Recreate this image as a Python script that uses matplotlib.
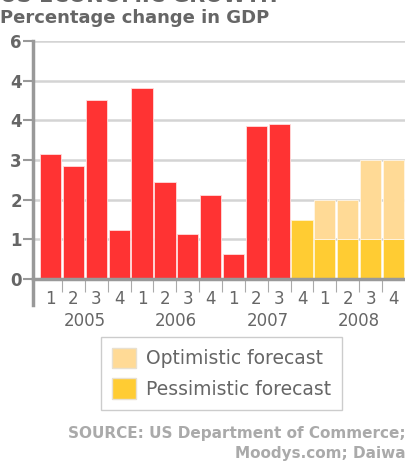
import matplotlib.pyplot as plt
import matplotlib.transforms as mtransforms
from matplotlib.patches import Patch

# quarterly GDP change, 2005 Q1 .. 2008 Q4
quarters = ['1', '2', '3', '4'] * 4
years = ['2005', '2006', '2007', '2008']
actual = [3.14, 2.85, 4.51, 1.23, 4.81, 2.44, 1.13, 2.13, 0.62, 3.85, 3.90]
pessimistic = [1.48, 1.0, 1.0, 1.0, 1.0]
optimistic = [None, 2.0, 2.0, 3.0, 3.0]
y_ticks = [0, 1, 2, 3, 4, 5, 6]
y_tick_labels = ['0', '1', '2', '3', '4', '4', '6']   # as printed on the original

RED = '#ff3333'
LIGHT = '#ffda96'
YELLOW = '#ffcc33'
GRAY = '#666666'

fig = plt.figure(figsize=(4.06, 4.61), dpi=100)
ax = fig.add_axes([33 / 406, 182 / 461, 1 - 33 / 406, 238 / 461])

n_act = len(actual)
x_act = list(range(n_act))
x_fc = list(range(n_act, n_act + len(pessimistic)))
w = 0.93

ax.bar(x_act, actual, width=w, color=RED, edgecolor='#ffdddd', linewidth=0.6, zorder=3)
ax.bar(x_fc, pessimistic, width=w, color=YELLOW, edgecolor='#fff3d0', linewidth=0.6, zorder=3)
opt_x = [x for x, o in zip(x_fc, optimistic) if o is not None]
opt_h = [o - p for o, p in zip(optimistic, pessimistic) if o is not None]
opt_b = [p for o, p in zip(optimistic, pessimistic) if o is not None]
ax.bar(opt_x, opt_h, bottom=opt_b, width=w, color=LIGHT, edgecolor='#fff6e6', linewidth=0.6, zorder=3)

n = len(quarters)
ax.set_xlim(-0.77, n - 0.45)
ax.set_ylim(0, 6)
ax.set_yticks(y_ticks)
ax.set_yticklabels(y_tick_labels, fontsize=12, fontweight='bold', color=GRAY)
ax.yaxis.grid(True, color='#d4d4d4', linewidth=1.8, zorder=0)
ax.tick_params(axis='y', length=7, width=1.5, color='#999999', pad=1)

ax.set_xticks(range(n))
ax.set_xticklabels(quarters, fontsize=12, color=GRAY)
ax.set_xticks([i + 0.5 for i in range(n - 1)], minor=True)
ax.tick_params(axis='x', which='major', length=0, pad=8)
ax.tick_params(axis='x', which='minor', length=9, width=0.8, color='#aaaaaa')

for s in ['top', 'right']:
    ax.spines[s].set_visible(False)
ax.spines['bottom'].set_color('#999999')
ax.spines['bottom'].set_linewidth(2.5)
ax.spines['bottom'].set_zorder(4)
ax.spines['left'].set_color('#999999')
ax.spines['left'].set_linewidth(2.5)
ax.spines['left'].set_bounds(-0.65, 6)

trans = mtransforms.blended_transform_factory(ax.transData, ax.transAxes)
for i, yr in enumerate(years):
    ax.text(i * 4 + 1.5, -0.176, yr, transform=trans, ha='center', va='center',
            fontsize=12, color=GRAY)

fig.text(0.0, 1 - 2 / 461, 'US ECONOMIC GROWTH', fontsize=15, fontweight='bold',
         color=GRAY, va='baseline', ha='left')
fig.text(0.0, 1 - 18 / 461, 'Percentage change in GDP', fontsize=13, fontweight='bold',
         color=GRAY, va='center', ha='left')

handles = [Patch(facecolor=LIGHT, edgecolor='#e8e0d0', label='Optimistic forecast'),
           Patch(facecolor=YELLOW, edgecolor='#e8e0d0', label='Pessimistic forecast')]
leg = fig.legend(handles=handles, loc='upper left', bbox_to_anchor=(101 / 406, 1 - 337 / 461),
                 prop={'size': 13.5}, fancybox=False, framealpha=1,
                 edgecolor='#cccccc', handlelength=1.28, handleheight=1.28,
                 handletextpad=0.53, labelspacing=0.53, borderpad=0.59, borderaxespad=0)
for t in leg.get_texts():
    t.set_color(GRAY)

fig.text(1.0, 1 - 433 / 461, 'SOURCE: US Department of Commerce;', fontsize=11,
         fontweight='bold', color='#aaaaaa', ha='right', va='center')
fig.text(1.0, 1 - 453 / 461, 'Moodys.com; Daiwa', fontsize=11,
         fontweight='bold', color='#aaaaaa', ha='right', va='center')

fig.savefig('out.png', dpi=100)
